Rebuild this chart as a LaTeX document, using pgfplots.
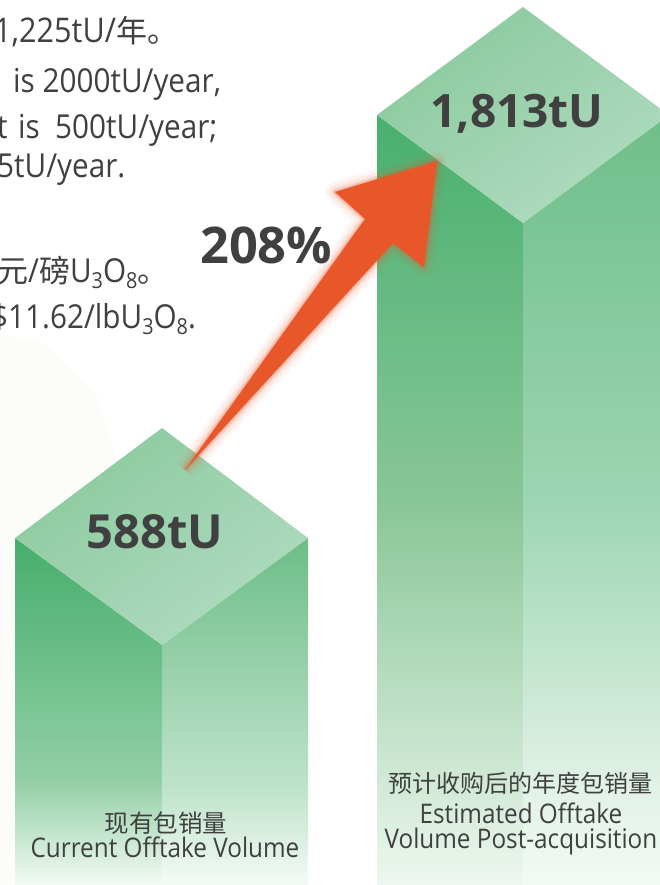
\documentclass[border=0pt]{standalone}
\usepackage{fontspec}
\setmainfont{Open Sans}[FakeStretch=0.9]
\newfontfamily\bnum{Open Sans}
\newfontfamily\cjk{Noto Sans CJK SC}
\usepackage{pgfplots}
\pgfplotsset{compat=1.18}
\newcommand\fs[1]{\fontsize{#1bp}{#1bp}\selectfont}
\newcommand\sub[1]{\raisebox{-6bp}{\fs{22}#1}}
\definecolor{txt}{HTML}{404040}
\definecolor{arr}{HTML}{E8572A}
\definecolor{bgs}{HTML}{FCFDF9}
% left bar
\definecolor{lLa}{HTML}{45AE6C}\definecolor{lLb}{HTML}{93CFA5}\definecolor{lLc}{HTML}{F3FAF5}
\definecolor{lRa}{HTML}{6DBD87}\definecolor{lRb}{HTML}{BFE3CB}\definecolor{lRc}{HTML}{F5FBF7}
% right bar
\definecolor{rLa}{HTML}{48B06F}\definecolor{rLb}{HTML}{88C696}\definecolor{rLc}{HTML}{D3EAD8}\definecolor{rLd}{HTML}{EEF7F0}
\definecolor{rRa}{HTML}{6FBE89}\definecolor{rRb}{HTML}{9CD5B2}\definecolor{rRc}{HTML}{E2F2E7}\definecolor{rRd}{HTML}{F2FAF4}
\definecolor{dTa}{HTML}{8BCA9E}\definecolor{dTb}{HTML}{B0DBC0}
\pgfdeclareverticalshading{shLL}{100bp}{color(0bp)=(lLc); color(25bp)=(lLc); color(40bp)=(lLb); color(75bp)=(lLa); color(100bp)=(lLa)}
\pgfdeclareverticalshading{shLR}{100bp}{color(0bp)=(lRc); color(25bp)=(lRc); color(38.7bp)=(lRb); color(75bp)=(lRa); color(100bp)=(lRa)}
\pgfdeclareverticalshading{shRL}{100bp}{color(0bp)=(rLd); color(25bp)=(rLd); color(31.2bp)=(rLc); color(50bp)=(rLb); color(75bp)=(rLa); color(100bp)=(rLa)}
\pgfdeclareverticalshading{shRR}{100bp}{color(0bp)=(rRd); color(25bp)=(rRd); color(31.2bp)=(rRc); color(50bp)=(rRb); color(75bp)=(rRa); color(100bp)=(rRa)}
\begin{document}
\begin{tikzpicture}
\begin{axis}[at={(0,0)}, anchor=south west, scale only axis, width=660bp, height=885bp,
  xmin=0, xmax=660, ymin=0, ymax=885, y dir=reverse, hide axis, clip=true, no markers,
  every axis plot/.append style={draw=none}]
% background
\addplot[fill=white] coordinates {(0,0) (660,0) (660,885) (0,885)};
\addplot[fill=bgs] coordinates {(0,335) (50,345) (95,390) (115,450) (115,885) (0,885)};
% bar 1: Current Offtake Volume, 588 tU
\addplot[shading=shLL] coordinates {(15,538) (162,645) (162,885) (15,885)};
\addplot[shading=shLR] coordinates {(162,645) (308,538) (308,885) (162,885)};
\addplot[top color=dTa, bottom color=dTb, shading angle=35] coordinates {(162,428) (308,538) (162,645) (15,538)};
% bar 2: Estimated Offtake Volume Post-acquisition, 1813 tU
\addplot[shading=shRL] coordinates {(377,115) (523,223) (523,885) (377,885)};
\addplot[shading=shRR] coordinates {(523,223) (669,115) (669,885) (523,885)};
\addplot[top color=dTa, bottom color=dTb, shading angle=35] coordinates {(523,7) (669,115) (523,223) (377,115)};
% arrow with glow
\addplot[draw=arr, draw opacity=0.05, line width=20bp, line join=round] coordinates {(185,470) (393,243) (424,267) (437,161) (335,192) (365,219) (185,470)};
\addplot[draw=arr, draw opacity=0.08, line width=13bp, line join=round] coordinates {(185,470) (393,243) (424,267) (437,161) (335,192) (365,219) (185,470)};
\addplot[draw=arr, draw opacity=0.14, line width=7bp, line join=round] coordinates {(185,470) (393,243) (424,267) (437,161) (335,192) (365,219) (185,470)};
\addplot[draw=arr, draw opacity=0.25, line width=3bp, line join=round] coordinates {(185,470) (393,243) (424,267) (437,161) (335,192) (365,219) (185,470)};
\addplot[fill=arr] coordinates {(185,470) (393,243) (424,267) (437,161) (335,192) (365,219)};
% texts
\begin{scope}[every node/.style={inner sep=0pt, text=txt}]
\node[anchor=base west, font=\fs{34}] at (axis cs:-6,43) {1,225tU/{\cjk\fs{31}年。}};
\node[anchor=base west, font=\fs{33}] at (axis cs:13,93) {is 2000tU/year,};
\node[anchor=base west, font=\fs{33}] at (axis cs:-3,139) {t};
\node[anchor=base west, font=\fs{33}] at (axis cs:18,139) {is};
\node[anchor=base west, font=\fs{33}] at (axis cs:55,139) {500tU/year;};
\node[anchor=base west, font=\fs{33}] at (axis cs:-3,178) {5tU/year.};
\node[anchor=base west, font=\fs{33}] at (axis cs:-3,282) {{\cjk\fs{31}元}/{\cjk\fs{31}磅}U\sub{3}O\sub{8}{\cjk\fs{31}。}};
\node[anchor=base west, font=\fs{33}] at (axis cs:-9,328) {\$11.62/lbU\sub{3}O\sub{8}.};
\node[anchor=base west, font=\bnum\bfseries\fs{50.5}] at (axis cs:200,263) {208\%};
\node[anchor=base, font=\bnum\bfseries\fs{47}] at (axis cs:155,548) {588tU};
\node[anchor=base, font=\bnum\bfseries\fs{46}] at (axis cs:517,128) {1,813tU};
\node[anchor=base, font=\cjk\fs{24.5}] at (axis cs:166,832) {现有包销量};
\node[anchor=base, font=\fs{27}] at (axis cs:165,857) {Current Offtake Volume};
\node[anchor=base, font=\cjk\fs{24}] at (axis cs:521,792) {预计收购后的年度包销量};
\node[anchor=base, font=\fs{27}] at (axis cs:521,823) {Estimated Offtake};
\node[anchor=base, font=\fs{27}] at (axis cs:521,848) {Volume Post-acquisition};
\end{scope}
\coordinate (bl) at (axis cs:0,885);
\coordinate (tr) at (axis cs:660,0);
\end{axis}
\pgfresetboundingbox
\useasboundingbox (bl) rectangle (tr);
\end{tikzpicture}
\end{document}
